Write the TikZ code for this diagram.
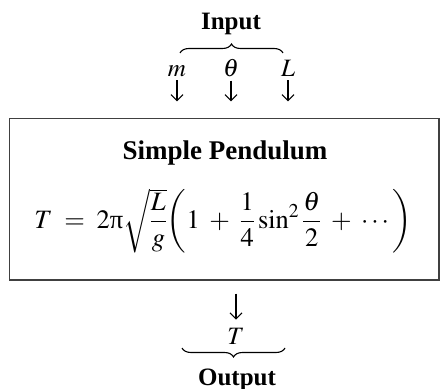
\documentclass[tikz,border=0pt]{standalone}
\usepackage{amsmath}
\usepackage{mathptmx}
\usepackage{fontspec}
\setmainfont{Liberation Serif}
\usepackage{tikz}
\usetikzlibrary{positioning, arrows.meta, decorations.pathreplacing}

\tikzset{
  varlabel/.style={anchor=base, inner sep=3pt},
  flow/.style={-{Straight Barb[length=6pt,width=12pt]}, line width=1.1pt},
  curly/.style={decorate, decoration={brace, amplitude=9pt}, line width=1.1pt},
}

\begin{document}
\begin{tikzpicture}[x=1pt, y=1pt, font=\fontsize{25}{30}\selectfont]
  \useasboundingbox (0,0) rectangle (440,389);
  % model box
  \node[draw=black!75, line width=1.3pt, minimum width=429.5pt, minimum height=161.5pt] (pendulum) at (224.25,189.75) {};
  \node[anchor=base, inner sep=0pt, font=\fontsize{27}{32}\selectfont] (title) at (225,229.5) {\textbf{Simple Pendulum}};
  \node[inner sep=0pt, font=\fontsize{26.5}{32}\selectfont] (formula) at (223,168)
    {$T \;=\; 2\text{π}\sqrt{\dfrac{L}{g}}\biggl(1 \;+\; \dfrac{1}{4}\sin^2\dfrac{\theta}{2} \;+\; \cdots\biggr)$};

  % inputs
  \node[anchor=base] (input) at (231,359) {\textbf{Input}};
  \coordinate (inL) at (180,336);
  \coordinate (inR) at (283,336);
  \draw[curly] (inL) -- (inR);
  \node[varlabel] (m) at (177,312) {$m$};
  \node[varlabel] (theta) at (231,312) {$\theta$};
  \node[varlabel] (L) at (288,312) {$L$};
  \draw[flow, shorten >=16.5pt] (m) -- (m |- pendulum.north);
  \draw[flow, shorten >=16.5pt] (theta) -- (theta |- pendulum.north);
  \draw[flow, shorten >=16.5pt] (L) -- (L |- pendulum.north);

  % output
  \node[varlabel] (T) at (236,44) {$T$};
  \draw[flow, shorten <=13pt, shorten >=6pt] (pendulum.south -| T) -- (T);
  \coordinate (outR) at (285,41);
  \coordinate (outL) at (182,41);
  \draw[curly] (outR) -- (outL);
  \node[anchor=base] (output) at (237,4) {\textbf{Output}};
\end{tikzpicture}
\end{document}
